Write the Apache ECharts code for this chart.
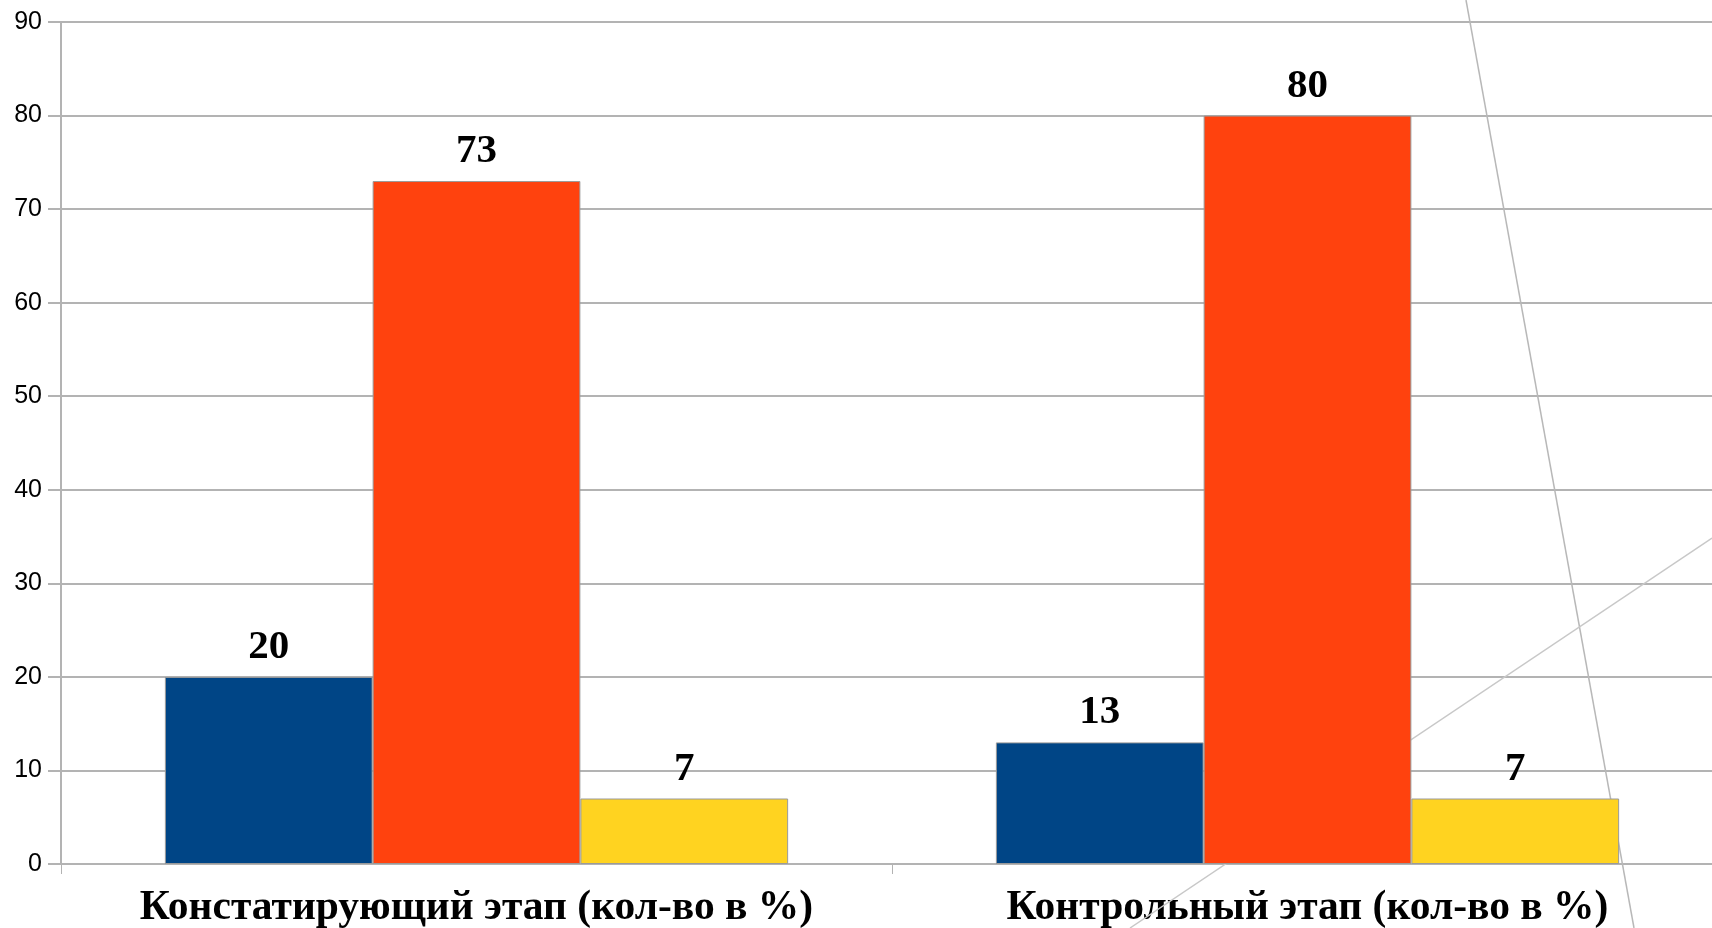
<!DOCTYPE html>
<html>
<head>
<meta charset="utf-8">
<script src="https://cdn.jsdelivr.net/npm/echarts@6/dist/echarts.min.js"></script>
<style>html,body{margin:0;padding:0;background:#fff;}#c{width:1712px;height:928px;}</style>
</head>
<body>
<div id="c"></div>
<script>
const categories = ['Констатирующий этап (кол-во в %)', 'Контрольный этап (кол-во в %)'];
const seriesA = [20, 13];
const seriesB = [73, 80];
const seriesC = [7, 7];
const yTicks = { min: 0, max: 90, interval: 10 };
const colors = ['#004586', '#ff420e', '#ffd320'];

const chart = echarts.init(document.getElementById('c'));
const labelStyle = {
  show: true, position: 'top', distance: 9,
  fontFamily: '"Liberation Serif", "Times New Roman", serif',
  fontWeight: 'bold', fontSize: 41, color: '#000'
};
function mk(data, i) {
  return {
    type: 'bar', data: data, barGap: '0%', barCategoryGap: '25%', z: 2,
    itemStyle: { color: colors[i], borderColor: '#9a9a9a', borderWidth: 1 },
    label: labelStyle
  };
}
chart.setOption({
  animation: false,
  backgroundColor: '#fff',
  grid: { left: 61, top: 22, bottom: 64, width: 1662, outerBoundsMode: 'none', containLabel: false },
  xAxis: {
    type: 'category', data: categories,
    axisLine: { lineStyle: { color: '#b3b3b3', width: 2 } },
    axisTick: { show: true, length: 10, lineStyle: { color: '#b3b3b3', width: 1 } },
    axisLabel: {
      interval: 0, margin: 23, color: '#000', fontSize: 41.5, fontWeight: 'bold',
      fontFamily: '"Liberation Serif", "Times New Roman", serif'
    }
  },
  yAxis: {
    type: 'value', min: yTicks.min, max: yTicks.max, interval: yTicks.interval,
    axisLine: { show: true, lineStyle: { color: '#b3b3b3', width: 2 } },
    axisTick: { show: true, length: 13, lineStyle: { color: '#b3b3b3', width: 2 } },
    splitLine: { lineStyle: { color: '#b3b3b3', width: 2 } },
    axisLabel: {
      margin: 19, color: '#000', fontSize: 25,
      fontFamily: '"Liberation Sans", Arial, sans-serif'
    }
  },
  graphic: [
    { type: 'line', z: 1, shape: { x1: 1466, y1: 0, x2: 1634, y2: 928 }, style: { stroke: '#b8b8b8', lineWidth: 1.5 } },
    { type: 'line', z: 1, shape: { x1: 1712, y1: 538, x2: 1130, y2: 928 }, style: { stroke: '#c8c8c8', lineWidth: 1.5 } }
  ],
  series: [mk(seriesA, 0), mk(seriesB, 1), mk(seriesC, 2)]
});
</script>
</body>
</html>
